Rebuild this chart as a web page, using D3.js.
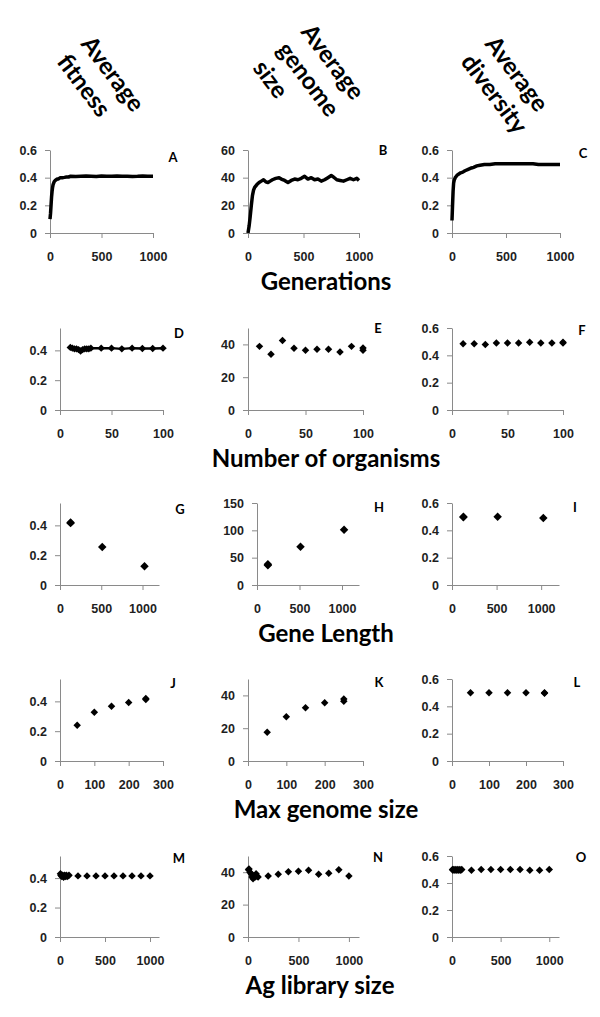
<!DOCTYPE html>
<html>
<head>
<meta charset="utf-8">
<script src="https://cdn.jsdelivr.net/npm/d3@7"></script>
<style>
  body { margin: 0; background: #fff; }
  svg { display: block; font-family: Lato, "Open Sans", sans-serif; }
  .domain, .tick line { stroke: #8a8a8a; stroke-width: 1; }
  .tick text { font-size: 12.5px; font-weight: bold; fill: #1e1e1e; }
</style>
</head>
<body>
<script>
// Données (valeurs estimées)

// Rangée 1 : générations
var genA = [0, 5, 10, 15, 20, 25, 30, 40, 50, 60, 70, 80, 90, 100, 120, 140, 160, 180, 200, 250, 300, 350, 400, 450, 500, 550, 600, 650, 700, 750, 800, 850, 900, 950, 1000];
var fitA = [0.10, 0.14, 0.20, 0.26, 0.30, 0.33, 0.35, 0.37, 0.38, 0.385, 0.39, 0.39, 0.395, 0.40, 0.40, 0.402, 0.405, 0.405, 0.41, 0.408, 0.41, 0.412, 0.41, 0.408, 0.412, 0.41, 0.41, 0.412, 0.41, 0.41, 0.409, 0.41, 0.412, 0.41, 0.41];
var genB = [0, 10, 20, 30, 40, 50, 60, 80, 100, 120, 140, 160, 180, 200, 220, 250, 280, 300, 330, 360, 390, 420, 450, 480, 510, 540, 570, 600, 630, 660, 690, 720, 750, 770, 800, 830, 860, 890, 920, 950, 980, 1000];
var sizeB = [0, 5, 12, 20, 27, 31, 33, 35, 36.5, 37.5, 38.5, 37, 36.5, 37.5, 38.5, 39.5, 40, 39, 38, 36.5, 38, 39, 38.5, 39.5, 41, 39, 40, 38.5, 39, 37.5, 38.5, 40, 41.5, 40.5, 38.5, 38, 37.5, 38.5, 39.5, 38.5, 39.5, 38];
var genC = [0, 5, 10, 15, 20, 30, 40, 50, 60, 80, 100, 120, 150, 180, 200, 230, 260, 300, 350, 400, 450, 500, 550, 600, 650, 700, 750, 800, 850, 900, 950, 1000];
var divC = [0.09, 0.20, 0.30, 0.36, 0.38, 0.40, 0.41, 0.42, 0.425, 0.435, 0.44, 0.45, 0.46, 0.47, 0.475, 0.485, 0.49, 0.495, 0.495, 0.50, 0.50, 0.50, 0.50, 0.50, 0.50, 0.50, 0.50, 0.495, 0.495, 0.495, 0.495, 0.495];

// Rangée 2 : nombre d'organismes
var orgD = [10, 12, 14, 16, 18, 20, 22, 24, 26, 28, 30, 40, 50, 60, 70, 80, 90, 100];
var fitD = [0.42, 0.415, 0.41, 0.41, 0.405, 0.395, 0.405, 0.41, 0.41, 0.41, 0.415, 0.415, 0.415, 0.41, 0.415, 0.412, 0.412, 0.415];
var orgE = [10, 20, 30, 40, 50, 60, 70, 80, 90, 100, 100];
var sizeE = [38.8, 34, 42.4, 37.6, 36.4, 37, 37, 35.3, 38.8, 36.5, 37.8];
var orgF = [10, 20, 30, 40, 50, 60, 70, 80, 90, 100, 100];
var divF = [0.485, 0.485, 0.48, 0.49, 0.49, 0.49, 0.495, 0.49, 0.49, 0.49, 0.495];

// Rangée 3 : longueur des gènes
var geneLen = [128, 128, 512, 1024];
var fitG = [0.42, 0.415, 0.255, 0.125];
var sizeH = [36, 38, 70, 101];
var divI = [0.50, 0.495, 0.50, 0.49];

// Rangée 4 : taille max du génome
var maxGenome = [50, 100, 150, 200, 250, 250];
var fitJ = [0.24, 0.327, 0.367, 0.393, 0.413, 0.42];
var sizeK = [17.5, 27, 32.5, 35.5, 36.5, 37.8];
var divL = [0.50, 0.50, 0.50, 0.50, 0.495, 0.50];

// Rangée 5 : taille de la bibliothèque Ag
var agLib = [5, 10, 20, 30, 40, 50, 60, 70, 80, 90, 100, 200, 300, 400, 500, 600, 700, 800, 900, 1000];
var fitM = [0.43, 0.42, 0.41, 0.42, 0.405, 0.42, 0.41, 0.42, 0.41, 0.415, 0.42, 0.415, 0.415, 0.415, 0.415, 0.415, 0.415, 0.415, 0.415, 0.415];
var sizeN = [41.5, 42, 40, 39, 37, 36, 38, 37, 39, 37.5, 37, 37.6, 38.8, 40.3, 40.6, 41.2, 38.8, 39.4, 41.5, 37.6];
var divO = [0.50, 0.495, 0.50, 0.495, 0.50, 0.495, 0.50, 0.495, 0.50, 0.495, 0.50, 0.495, 0.50, 0.50, 0.50, 0.50, 0.50, 0.495, 0.495, 0.50];

// Graduations
var ticksFit = [0, 0.2, 0.4];
var ticksFit6 = [0, 0.2, 0.4, 0.6];
var ticksDiv = [0, 0.2, 0.4, 0.6];
var ticksSize40 = [0, 20, 40];
var ticksSize60 = [0, 20, 40, 60];
var ticksSize150 = [0, 50, 100, 150];
var ticksGen = [0, 500, 1000];
var ticksOrg = [0, 50, 100];
var ticksMax = [0, 100, 200, 300];

var headers = [["Average", "fitness"], ["Average", "genome", "size"], ["Average", "diversity"]];
var rowTitles = ["Generations", "Number of organisms", "Gene Length", "Max genome size", "Ag library size"];

// Mise en page
var rowTop = [150, 328, 503, 679, 856];
var rowBottom = [233, 410, 585, 761, 937];

var panels = [
    {id: "A", row: 0, x0: 50,  x1: 153, xmax: 1000, ymax: 0.6,  xt: ticksGen, yt: ticksFit6,   xs: genA, ys: fitA, kind: "line", lx: 173, ly: 157},
    {id: "B", row: 0, x0: 248, x1: 359, xmax: 1000, ymax: 60,   xt: ticksGen, yt: ticksSize60, xs: genB, ys: sizeB, kind: "line", lx: 383, ly: 150},
    {id: "C", row: 0, x0: 452, x1: 560, xmax: 1000, ymax: 0.6,  xt: ticksGen, yt: ticksDiv,    xs: genC, ys: divC, kind: "line", lx: 583, ly: 153},
    {id: "D", row: 1, x0: 60,  x1: 163, xmax: 100,  ymax: 0.55, xt: ticksOrg, yt: ticksFit,    xs: orgD, ys: fitD, kind: "both", lx: 179, ly: 333},
    {id: "E", row: 1, x0: 248, x1: 363, xmax: 100,  ymax: 50,   xt: ticksOrg, yt: ticksSize40, xs: orgE, ys: sizeE, kind: "dots", lx: 378, ly: 328},
    {id: "F", row: 1, x0: 452, x1: 563, xmax: 100,  ymax: 0.6,  xt: ticksOrg, yt: ticksDiv,    xs: orgF, ys: divF, kind: "dots", lx: 582, ly: 330},
    {id: "G", row: 2, x0: 60,  x1: 159, xmax: 1200, ymax: 0.55, xt: ticksGen, yt: ticksFit,    xs: geneLen, ys: fitG, kind: "dots", big: true, lx: 180, ly: 509},
    {id: "H", row: 2, x0: 257, x1: 359, xmax: 1200, ymax: 150,  xt: ticksGen, yt: ticksSize150, xs: geneLen, ys: sizeH, kind: "dots", big: true, lx: 379, ly: 507},
    {id: "I", row: 2, x0: 452, x1: 559, xmax: 1200, ymax: 0.6,  xt: ticksGen, yt: ticksDiv,    xs: geneLen, ys: divI, kind: "dots", big: true, lx: 575, ly: 507},
    {id: "J", row: 3, x0: 60,  x1: 163, xmax: 300,  ymax: 0.55, xt: ticksMax, yt: ticksFit,    xs: maxGenome, ys: fitJ, kind: "dots", lx: 173, ly: 683},
    {id: "K", row: 3, x0: 248, x1: 363, xmax: 300,  ymax: 50,   xt: ticksMax, yt: ticksSize40, xs: maxGenome, ys: sizeK, kind: "dots", lx: 379, ly: 682},
    {id: "L", row: 3, x0: 452, x1: 563, xmax: 300,  ymax: 0.6,  xt: ticksMax, yt: ticksDiv,    xs: maxGenome, ys: divL, kind: "dots", lx: 577, ly: 682},
    {id: "M", row: 4, x0: 60,  x1: 159, xmax: 1100, ymax: 0.55, xt: ticksGen, yt: ticksFit,    xs: agLib, ys: fitM, kind: "dots", lx: 179, ly: 858},
    {id: "N", row: 4, x0: 248, x1: 359, xmax: 1100, ymax: 50,   xt: ticksGen, yt: ticksSize40, xs: agLib, ys: sizeN, kind: "dots", lx: 378, ly: 857},
    {id: "O", row: 4, x0: 452, x1: 559, xmax: 1100, ymax: 0.6,  xt: ticksGen, yt: ticksDiv,    xs: agLib, ys: divO, kind: "dots", lx: 581, ly: 857}
];

var svg = d3.select("body").append("svg")
    .attr("width", 600)
    .attr("height", 1017);

// En-têtes de colonnes, inclinés
var headerPos = [[88, 38], [308, 26], [492, 38]];
headers.forEach(function(lines, i) {
    var t = svg.append("text")
        .attr("transform", "translate(" + headerPos[i][0] + "," + headerPos[i][1] + ") rotate(53)")
        .attr("font-size", "24px")
        .attr("font-weight", "bold")
        .attr("dominant-baseline", "central");
    lines.forEach(function(l, j) {
        t.append("tspan").attr("x", 0).attr("y", j * 30).text(l);
    });
});

// Titres des rangées
rowTitles.forEach(function(title, r) {
    svg.append("text")
        .attr("x", r === 4 ? 320 : 326)
        .attr("y", rowBottom[r] + 47)
        .attr("text-anchor", "middle")
        .attr("dominant-baseline", "central")
        .attr("font-size", "24px")
        .attr("font-weight", "bold")
        .text(title);
});

var diamond = function(size) {
    return d3.symbol().type(d3.symbolSquare).size(size)();
};

// Chaque panneau
panels.forEach(function(p) {
    var g = svg.append("g").attr("id", "panel_" + p.id);
    var x = d3.scaleLinear().domain([0, p.xmax]).range([p.x0, p.x1]);
    var y = d3.scaleLinear().domain([0, p.ymax]).range([rowBottom[p.row], rowTop[p.row]]);

    g.append("g")
        .attr("transform", "translate(0," + y(0) + ")")
        .call(d3.axisBottom(x).tickValues(p.xt).tickSize(5).tickSizeOuter(0).tickPadding(14).tickFormat(function(d) { return d; }));
    g.append("g")
        .attr("transform", "translate(" + x(0) + ",0)")
        .call(d3.axisLeft(y).tickValues(p.yt).tickSize(5).tickSizeOuter(0).tickPadding(8).tickFormat(function(d) { return d; }));

    var pts = p.xs.map(function(v, i) { return [v, p.ys[i]]; });

    if (p.kind === "line" || p.kind === "both") {
        g.append("path")
            .datum(pts)
            .attr("fill", "none")
            .attr("stroke", "#000")
            .attr("stroke-width", p.kind === "line" ? 3.5 : 2.5)
            .attr("stroke-linejoin", "round")
            .attr("d", d3.line().x(function(d) { return x(d[0]); }).y(function(d) { return y(d[1]); }));
    }
    if (p.kind === "dots" || p.kind === "both") {
        g.selectAll("path.pt")
            .data(pts)
            .enter()
            .append("path")
            .attr("class", "pt")
            .attr("d", diamond(p.big ? 36 : 28))
            .attr("fill", "#000")
            .attr("transform", function(d) { return "translate(" + x(d[0]) + "," + y(d[1]) + ") rotate(45)"; });
    }

    g.append("text")
        .attr("x", p.lx)
        .attr("y", p.ly)
        .attr("text-anchor", "middle")
        .attr("dominant-baseline", "central")
        .attr("font-size", "13px")
        .attr("font-weight", "bold")
        .text(p.id);
});
</script>
</body>
</html>
